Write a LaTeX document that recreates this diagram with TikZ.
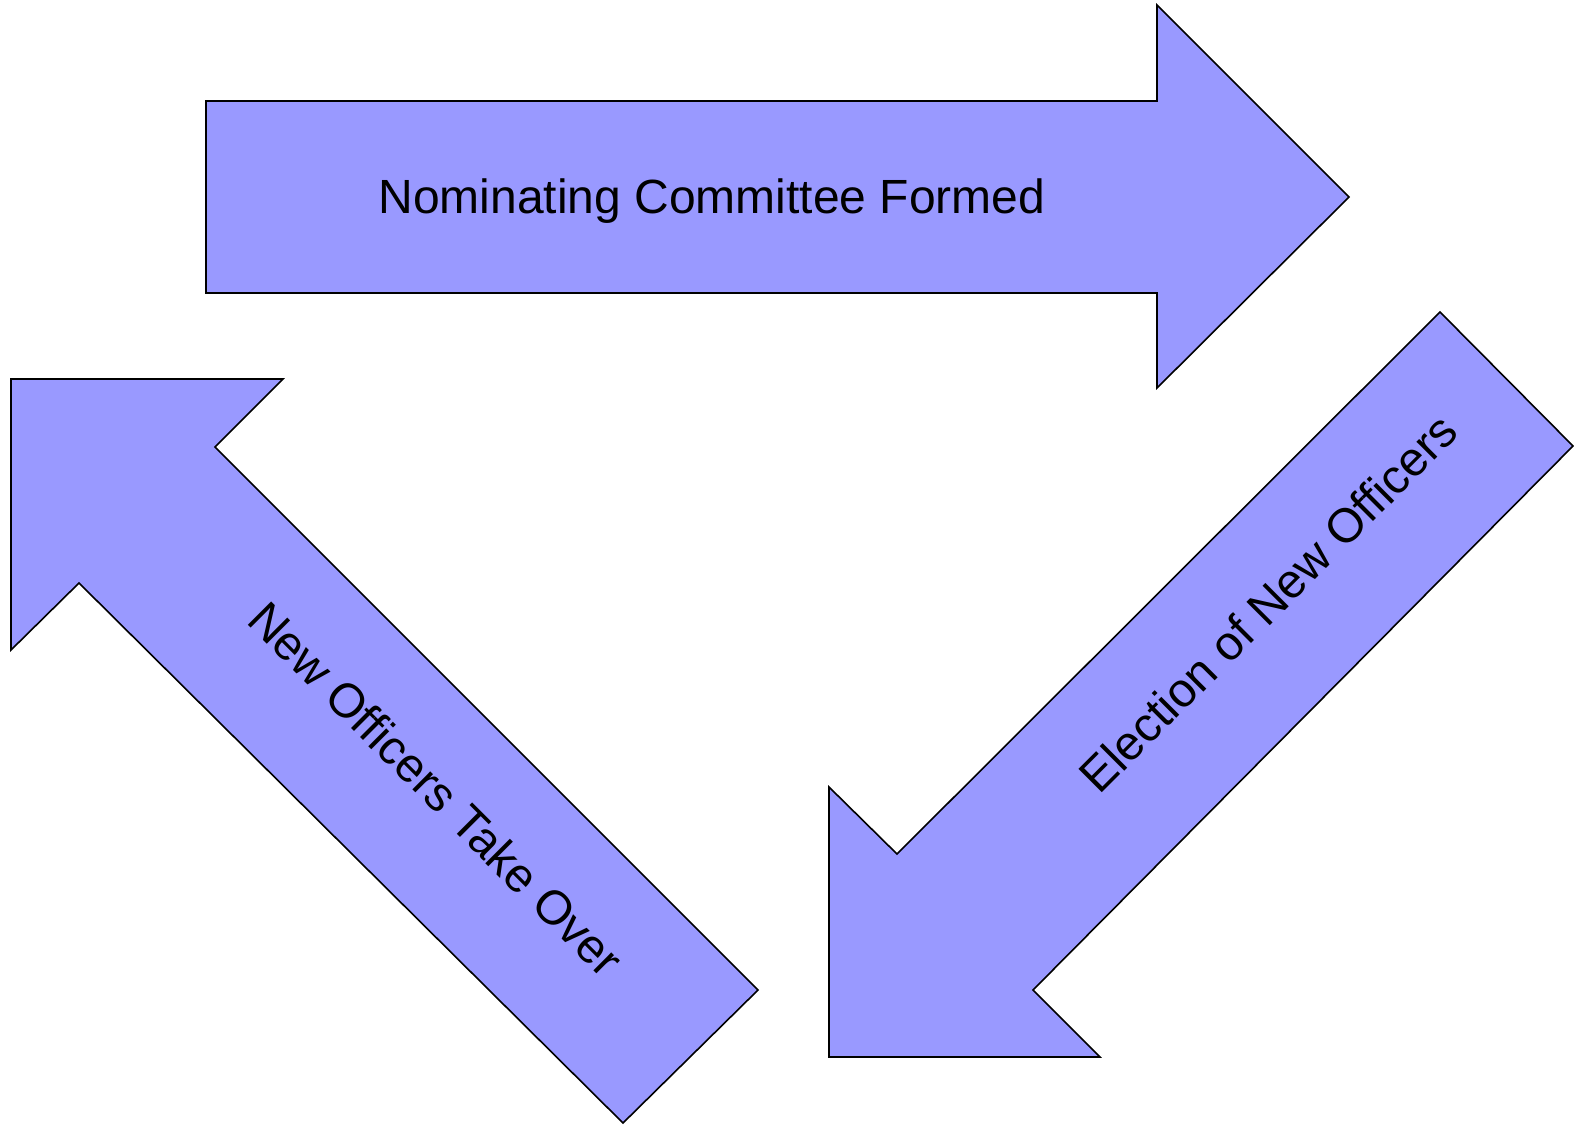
\documentclass[tikz,border=0pt]{standalone}
\usepackage{fontspec}
\setmainfont{Liberation Sans}
\definecolor{arrowfill}{HTML}{9999FF}
\begin{document}
\begin{tikzpicture}[x=1pt,y=-1pt,
  blockarrow/.style={fill=arrowfill,draw=black,line width=1.6pt,line join=miter},
  lbl/.style={font=\fontsize{48}{52}\selectfont,inner sep=0pt}]
\useasboundingbox (0,0) rectangle (1574,1125);
\draw[blockarrow] (206,101) -- (1157,101) -- (1157,5) -- (1349,197) -- (1157,388) -- (1157,293) -- (206,293) -- cycle;
\draw[blockarrow] (1440,312) -- (1573,446) -- (1033,990) -- (1100,1057) -- (829,1057) -- (829,787) -- (897,854) -- cycle;
\draw[blockarrow] (11,379) -- (283,379) -- (215,447) -- (758,990) -- (623,1123) -- (79,583) -- (11,650) -- cycle;
\node[lbl,anchor=base] (t1) at (712,213) {Nominating Committee Formed};
\node[lbl,rotate=45] (t2) at (1268,603) {Election of New Officers};
\node[lbl,rotate=-45] (t3) at (436,789) {New Officers Take Over};
\end{tikzpicture}
\end{document}
